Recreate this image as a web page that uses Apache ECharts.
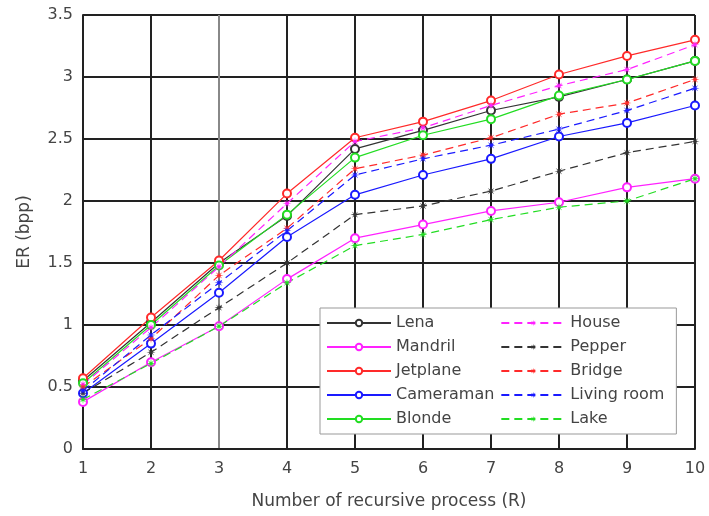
<!DOCTYPE html>
<html>
<head>
<meta charset="utf-8">
<script src="https://cdn.jsdelivr.net/npm/echarts@6/dist/echarts.min.js"></script>
<style>
  html, body { margin: 0; padding: 0; background: #fff; }
  #chart { width: 709px; height: 516px; }
</style>
</head>
<body>
<div id="chart"></div>
<script>
// recursion steps R
const steps = [1, 2, 3, 4, 5, 6, 7, 8, 9, 10];

// ER (bpp) per image
const lena       = [0.55, 1.02, 1.50, 1.88, 2.42, 2.57, 2.73, 2.84, 2.98, 3.13];
const mandril    = [0.38, 0.70, 0.99, 1.37, 1.70, 1.81, 1.92, 1.99, 2.11, 2.18];
const jetplane   = [0.57, 1.06, 1.52, 2.06, 2.51, 2.64, 2.81, 3.02, 3.17, 3.30];
const cameraman  = [0.45, 0.85, 1.26, 1.71, 2.05, 2.21, 2.34, 2.52, 2.63, 2.77];
const blonde     = [0.53, 1.00, 1.48, 1.89, 2.35, 2.53, 2.66, 2.85, 2.98, 3.13];
const house      = [0.52, 0.98, 1.47, 1.98, 2.48, 2.59, 2.77, 2.93, 3.06, 3.26];
const pepper     = [0.45, 0.78, 1.14, 1.50, 1.89, 1.96, 2.08, 2.24, 2.39, 2.48];
const bridge     = [0.50, 0.89, 1.40, 1.78, 2.26, 2.37, 2.51, 2.70, 2.79, 2.98];
const livingRoom = [0.47, 0.92, 1.34, 1.76, 2.21, 2.34, 2.45, 2.58, 2.73, 2.91];
const lake       = [0.40, 0.69, 0.99, 1.34, 1.64, 1.73, 1.85, 1.95, 2.00, 2.18];

const yTicks = [0, 0.5, 1, 1.5, 2, 2.5, 3, 3.5];

// matlab-ish '*' marker
const star = 'path://M10,0 L2.77,1.15 L7.07,7.07 L1.15,2.77 L0,10 L-1.15,2.77 L-7.07,7.07 L-2.77,1.15 L-10,0 L-2.77,-1.15 L-7.07,-7.07 L-1.15,-2.77 L0,-10 L1.15,-2.77 L7.07,-7.07 L2.77,-1.15 Z';

const font = 'DejaVu Sans';

function pairs(vals) {
    return steps.map((s, i) => [s, vals[i]]);
}

function solid(name, vals, color) {
    return {
        name: name,
        type: 'line',
        data: pairs(vals),
        symbol: 'emptyCircle',
        symbolSize: 8,
        lineStyle: { color: color, width: 1.2 },
        itemStyle: { color: color, borderColor: color, borderWidth: 1 },
        z: 3
    };
}

function dashed(name, vals, color) {
    return {
        name: name,
        type: 'line',
        data: pairs(vals),
        symbol: star,
        symbolSize: 9,
        lineStyle: { color: color, width: 1.2, type: [8, 5] },
        itemStyle: { color: color },
        z: 3
    };
}

const chart = echarts.init(document.getElementById('chart'));
chart.setOption({
    animation: false,
    backgroundColor: '#fff',
    textStyle: { fontFamily: font },
    grid: { left: 83, right: 14, top: 15, bottom: 67 },
    legend: {
        orient: 'vertical',
        left: 320,
        top: 308,
        height: 126,
        padding: [6, 12, 6, 6],
        itemWidth: 64,
        itemHeight: 8,
        itemGap: 6,
        backgroundColor: '#fff',
        borderColor: '#999',
        borderWidth: 1,
        textStyle: { fontFamily: font, fontSize: 16, color: '#444', lineHeight: 18 },
        data: ['Lena', 'Mandril', 'Jetplane', 'Cameraman', 'Blonde',
               'House', 'Pepper', 'Bridge', 'Living room', 'Lake']
    },
    xAxis: {
        type: 'value',
        min: 1,
        max: 10,
        interval: 1,
        name: 'Number of recursive process (R)',
        nameLocation: 'middle',
        nameGap: 44,
        nameTextStyle: { fontFamily: font, fontSize: 17, color: '#444' },
        axisLine: { lineStyle: { color: '#222', width: 2 } },
        axisTick: { show: false },
        axisLabel: { fontFamily: font, fontSize: 16, color: '#444', margin: 12 },
        splitLine: {
            show: true,
            lineStyle: {
                color: ['#222', '#222', '#888', '#222', '#222', '#222', '#222', '#222', '#222', '#222'],
                width: 2
            }
        }
    },
    yAxis: {
        type: 'value',
        min: yTicks[0],
        max: yTicks[yTicks.length - 1],
        interval: 0.5,
        name: 'ER (bpp)',
        nameLocation: 'middle',
        nameGap: 50,
        nameTextStyle: { fontFamily: font, fontSize: 17, color: '#444' },
        axisLine: { show: true, lineStyle: { color: '#222', width: 2 } },
        axisTick: { show: false },
        axisLabel: { fontFamily: font, fontSize: 16, color: '#444', margin: 10 },
        splitLine: { show: true, lineStyle: { color: '#222', width: 2 } }
    },
    series: [
        solid('Lena', lena, '#333333'),
        solid('Mandril', mandril, '#ff22ff'),
        solid('Jetplane', jetplane, '#ff2a2a'),
        solid('Cameraman', cameraman, '#1a1aff'),
        solid('Blonde', blonde, '#22dd22'),
        dashed('House', house, '#ff22ff'),
        dashed('Pepper', pepper, '#333333'),
        dashed('Bridge', bridge, '#ff2a2a'),
        dashed('Living room', livingRoom, '#1a1aff'),
        dashed('Lake', lake, '#22dd22')
    ]
});
</script>
</body>
</html>
